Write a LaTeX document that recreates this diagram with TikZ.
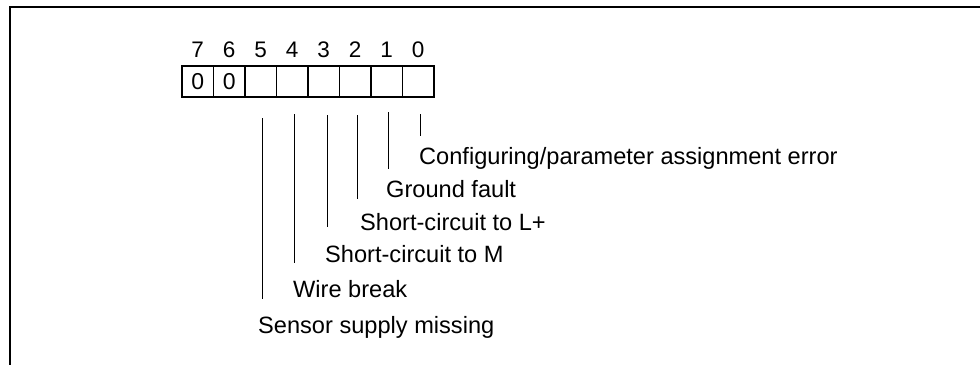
\documentclass[tikz,border=0pt]{standalone}
\usepackage{fontspec}
\setmainfont{Liberation Sans}
\begin{document}
\begin{tikzpicture}[x=1pt,y=-1pt,
  cell/.style={draw,line width=1.6pt,minimum width=31.5pt,minimum height=31pt,inner sep=0pt,
    font=\fontsize{23}{23}\selectfont},
  bitnum/.style={font=\fontsize{22.5}{22.5}\selectfont,inner sep=0pt},
  lbl/.style={font=\fontsize{23.6}{24}\selectfont,inner sep=0pt,anchor=base west},
  leader/.style={line width=0.9pt},
  frame/.style={line width=1.3pt}]
\useasboundingbox (0,0) rectangle (980,365);
% frame
\coordinate (fr) at (980,7);
\coordinate (fc) at (10,7);
\coordinate (fb) at (10,365);
\draw[frame] (fr) -- (fc) -- (fb);
% register cells
\foreach \b/\t [count=\k from 0] in {7/0,6/0,5/,4/,3/,2/,1/,0/}{
  \node[cell] (c\b) at (197.75+31.5*\k,81.5) {\t};
  \node[bitnum] (n\b) at (197.75+31.5*\k,50) {\b};
}
% labels
\node[lbl] (l0) at (419,164) {Configuring/parameter assignment error};
\node[lbl] (l1) at (386,197) {Ground fault};
\node[lbl] (l2) at (360,230) {Short-circuit to L+};
\node[lbl] (l3) at (325,262) {Short-circuit to M};
\node[lbl] (l4) at (293,297) {Wire break};
\node[lbl] (l5) at (258,333) {Sensor supply missing};
% leader lines
\coordinate (t0) at (420,114); \coordinate (b0) at (420,136);
\coordinate (t1) at (388,112); \coordinate (b1) at (388,169);
\coordinate (t2) at (357,115); \coordinate (b2) at (357,199);
\coordinate (t3) at (327,115); \coordinate (b3) at (327,227);
\coordinate (t4) at (294,114); \coordinate (b4) at (294,263);
\coordinate (t5) at (262,118); \coordinate (b5) at (262,299);
\foreach \i in {0,...,5}{\draw[leader] (t\i) -- (b\i);}
\end{tikzpicture}
\end{document}
